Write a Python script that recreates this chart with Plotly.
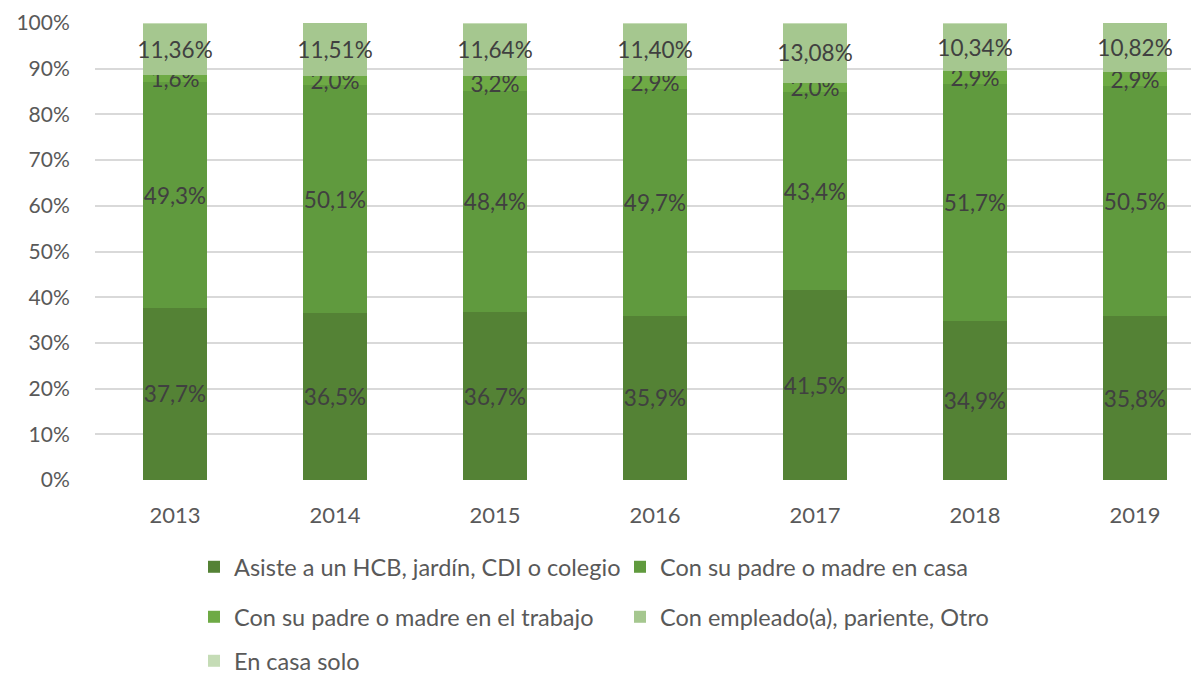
import plotly.graph_objects as go

years = ["2013", "2014", "2015", "2016", "2017", "2018", "2019"]
asiste = [37.7, 36.5, 36.7, 35.9, 41.5, 34.9, 35.8]
padre_casa = [49.3, 50.1, 48.4, 49.7, 43.4, 51.7, 50.5]
padre_trabajo = [1.6, 2.0, 3.2, 2.9, 2.0, 2.9, 2.9]
empleado = [11.36, 11.51, 11.64, 11.40, 13.08, 10.34, 10.82]
casa_solo = [0.04, 0.0, 0.06, 0.10, 0.02, 0.16, 0.0]

series = [
    ("Asiste a un HCB, jardín, CDI o colegio", asiste, "#548235", 1, True),
    ("Con su padre o madre en casa", padre_casa, "#609A3E", 1, True),
    ("Con su padre o madre en el trabajo", padre_trabajo, "#6EAA45", 1, True),
    ("Con empleado(a), pariente, Otro", empleado, "#A5C78F", 2, True),
    ("En casa solo", casa_solo, "#C5DCB6", 0, False),
]

def fmt(v, dec):
    return (f"{v:.{dec}f}".replace(".", ",") + "%")

FONT = "Lato"
W, H = 1191, 669  # page body has an 8px margin
OFF = 8

fig = go.Figure()
legend_names = ["legend", "legend2", "legend3", "legend4", "legend5"]
for i, (name, vals, color, dec, show) in enumerate(series):
    fig.add_trace(go.Bar(
        x=years, y=vals, name=name,
        marker=dict(color=color, line=dict(width=0)),
        text=[fmt(v, dec) for v in vals] if show else None,
        textposition="inside" if show else "none",
        insidetextanchor="middle",
        constraintext="none",
        textangle=0,
        textfont=dict(family=FONT, size=22.5, color="#404040"),
        legend=legend_names[i],
        hoverinfo="skip",
    ))

# legend positions (screen pixel coords in the reference)
leg_pos = [(194, 567), (620, 567), (194, 617), (620, 617), (194, 661)]
legend_layouts = {}
for ln, (px, py) in zip(legend_names, leg_pos):
    legend_layouts[ln] = dict(
        xref="container", yref="container",
        x=(px - OFF) / W, y=1 - (py - OFF) / H, xanchor="left", yanchor="middle",
        orientation="h",
        font=dict(family=FONT, size=23.5, color="#595959"),
        bgcolor="rgba(0,0,0,0)", borderwidth=0,
        itemclick=False, itemdoubleclick=False,
    )

fig.update_layout(
    width=W, height=H,
    barmode="stack", barnorm="percent", bargap=0.6,
    plot_bgcolor="white", paper_bgcolor="white",
    margin=dict(l=87, r=0, t=23 - OFF, b=H - (480 - OFF), autoexpand=False),
    font=dict(family=FONT, color="#595959"),
    showlegend=True,
    **legend_layouts,
)
fig.update_xaxes(
    type="category", range=[-0.5, 6.4],
    showgrid=False, zeroline=False, showline=False,
    ticks="outside", ticklen=16, tickcolor="rgba(0,0,0,0)",
    tickfont=dict(family=FONT, size=22, color="#595959"),
)
fig.update_yaxes(
    range=[0, 100], tickvals=list(range(0, 101, 10)), ticktext=[f"{v}%" for v in range(0, 101, 10)],
    showgrid=True, gridcolor="#D9D9D9", gridwidth=1.5,
    zeroline=False, showline=False, ticklabeloverflow="allow",
    ticks="outside", ticklen=20, tickcolor="rgba(0,0,0,0)",
    tickfont=dict(family=FONT, size=21, color="#595959"),
)

fig.write_html("out.html")
